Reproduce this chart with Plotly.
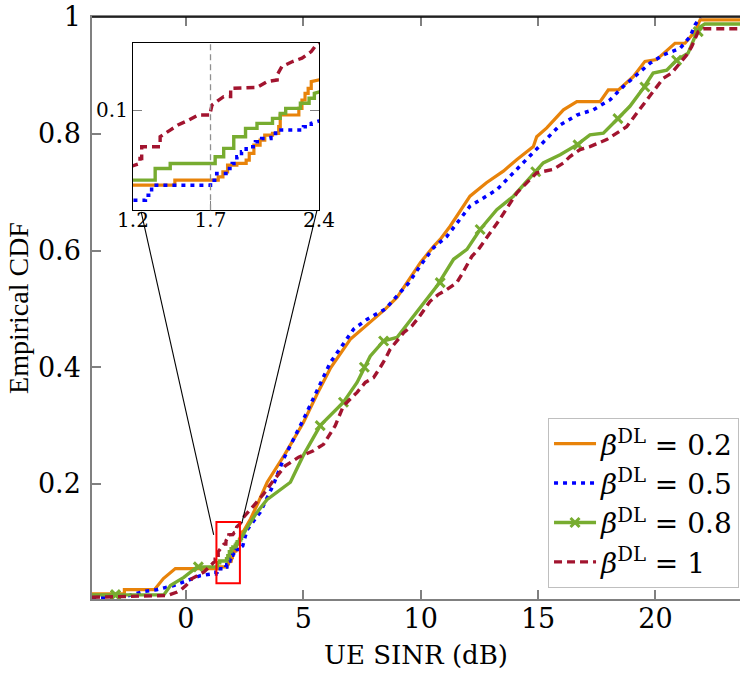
import plotly.graph_objects as go

# colours / fonts
ORANGE = '#E8830A'
BLUE = '#0000FF'
GREEN = '#77AC30'
RED = '#A2142F'
FONT = 'DejaVu Serif, Liberation Serif, serif'
FONT_Y = 'Liberation Serif, DejaVu Serif, serif'

# beta^DL = 0.2 (orange, solid)
orange_x = [-4.0, -2.62, -2.62, -1.34, -0.96, -0.45,
            1.47, 1.47, 1.75, 1.75, 1.78, 1.78, 1.81, 1.81, 1.87, 1.87,
            1.93, 1.93, 1.95, 1.95, 1.98, 1.98, 2.02, 2.02, 2.05, 2.05,
            2.10, 2.10, 2.14, 2.14, 2.15, 2.15, 2.27, 2.27, 2.29, 2.29,
            2.31, 2.31, 2.33, 2.33, 2.35, 2.35, 2.45,
            2.75, 3.1, 3.46, 4.2, 5.0, 5.6, 6.15, 7.0, 7.85, 8.5, 9.0,
            9.5, 10.0, 10.55, 10.83, 11.26, 12.1, 12.8, 13.52, 14.1, 14.8,
            14.94, 15.37, 16.08, 16.65, 17.64, 17.99, 18.42, 19.06, 19.55,
            20.05, 20.83, 21.26, 21.68, 21.82, 21.9, 23.6]
orange_y = [0.012, 0.012, 0.019, 0.019, 0.038, 0.055,
            0.055, 0.058, 0.058, 0.060, 0.060, 0.063, 0.063, 0.067, 0.067, 0.068,
            0.068, 0.070, 0.070, 0.074, 0.074, 0.079, 0.079, 0.082, 0.082, 0.085,
            0.085, 0.086, 0.086, 0.090, 0.090, 0.097, 0.097, 0.101, 0.101, 0.106,
            0.106, 0.110, 0.110, 0.113, 0.113, 0.117, 0.119,
            0.14, 0.17, 0.203, 0.25, 0.305, 0.355, 0.398, 0.448, 0.477, 0.50, 0.52,
            0.55, 0.58, 0.607, 0.619, 0.642, 0.693, 0.716, 0.736, 0.756, 0.778,
            0.795, 0.81, 0.841, 0.855, 0.855, 0.875, 0.875, 0.898, 0.924,
            0.927, 0.955, 0.955, 0.975, 0.99, 0.995, 0.995]

# beta^DL = 0.5 (blue, dotted)
blue_x = [-4.0, -2.5, -1.8, -1.25, -0.52, 0.05, 0.62, 1.1,
          1.28, 1.28, 1.32, 1.32, 1.70, 1.70, 1.74, 1.74, 1.80, 1.80,
          1.84, 1.84, 1.87, 1.87, 1.90, 1.90, 1.93, 1.93, 1.99, 1.99,
          2.03, 2.03, 2.09, 2.09, 2.12, 2.12, 2.30, 2.30, 2.35, 2.35, 2.42,
          2.6, 3.17, 3.74, 4.16, 5.01, 6.15, 7.14, 7.71, 8.5, 9.5, 10.0,
          10.55, 11.11, 12.1, 13.24, 13.8, 14.37, 15.22, 15.94, 16.65, 17.35,
          18.06, 18.63, 19.2, 19.77, 20.33, 21.04, 21.47, 21.68, 21.9]
blue_y = [0.005, 0.008, 0.016, 0.019, 0.026, 0.035, 0.043, 0.046,
          0.046, 0.049, 0.049, 0.055, 0.055, 0.058, 0.058, 0.062, 0.062, 0.065,
          0.065, 0.068, 0.068, 0.072, 0.072, 0.075, 0.075, 0.078, 0.078, 0.081,
          0.081, 0.083, 0.083, 0.086, 0.086, 0.088, 0.088, 0.090, 0.090, 0.092, 0.094,
          0.121, 0.152, 0.2, 0.243, 0.311, 0.408, 0.465, 0.482, 0.50, 0.545, 0.575,
          0.605, 0.624, 0.676, 0.704, 0.727, 0.75, 0.784, 0.815, 0.832, 0.841,
          0.858, 0.881, 0.901, 0.921, 0.935, 0.946, 0.966, 0.986, 1.0]

# beta^DL = 0.8 (green, solid with x marks)
green_x = [-4.0, -0.94, -0.66, -0.09, 0.48,
           1.343, 1.343, 1.44, 1.44, 1.73, 1.73, 1.785, 1.785, 1.85, 1.85,
           1.926, 1.926, 2.0, 2.0, 2.1, 2.1, 2.15, 2.15, 2.185, 2.185,
           2.28, 2.28, 2.336, 2.336, 2.37, 2.37, 2.41,
           2.53, 3.0, 3.45, 4.45, 5.0, 5.72, 6.71, 7.29, 7.85, 8.42, 8.99,
           9.84, 10.69, 11.4, 11.97, 12.53, 13.24, 13.95, 14.8, 15.22, 15.94,
           16.65, 17.21, 17.78, 18.35, 18.91, 19.48, 19.9, 20.48, 20.9, 21.39,
           21.68, 21.9, 22.1, 23.6]
green_y = [0.01, 0.01, 0.026, 0.04, 0.058,
           0.058, 0.065, 0.065, 0.068, 0.068, 0.072, 0.072, 0.077, 0.077, 0.084,
           0.084, 0.089, 0.089, 0.092, 0.092, 0.095, 0.095, 0.098, 0.098, 0.101,
           0.101, 0.104, 0.104, 0.107, 0.107, 0.110, 0.111,
           0.12, 0.15, 0.173, 0.203, 0.249, 0.30, 0.34, 0.374, 0.419, 0.445, 0.451,
           0.494, 0.539, 0.585, 0.602, 0.636, 0.67, 0.693, 0.73, 0.75, 0.764,
           0.781, 0.798, 0.801, 0.824, 0.847, 0.878, 0.904, 0.909, 0.926, 0.938,
           0.966, 0.983, 0.988, 0.988]
green_mark_x = [-3.0, 0.53, 5.72, 6.71, 7.6, 8.42, 10.83, 12.53, 14.9, 16.7, 18.4, 19.55, 20.9, 21.82]
green_mark_y = [0.01, 0.058, 0.30, 0.34, 0.40, 0.445, 0.545, 0.636, 0.735, 0.781, 0.826, 0.88, 0.926, 0.975]

# beta^DL = 1 (dark red, dashed)
red_x = [-4.0, -0.8, -0.37, -0.23, 0.0, 0.26, 0.76, 1.18,
         1.245, 1.245, 1.256, 1.256, 1.375, 1.375, 1.44, 1.49, 1.56, 1.62,
         1.70, 1.70, 1.71, 1.785, 1.83, 1.83, 2.0, 2.065, 2.13, 2.13, 2.16,
         2.23, 2.29, 2.35, 2.39,
         2.89, 3.31, 3.67, 4.23, 4.8, 5.43, 5.86, 6.36, 6.71, 7.29, 7.64, 7.99,
         8.28, 8.49, 8.7, 8.99, 9.27, 9.63, 9.91, 10.4, 10.76, 11.11, 11.54,
         11.75, 11.97, 12.18, 12.46, 13.31, 14.1, 14.52, 14.94, 15.65, 16.08,
         16.36, 16.79, 17.21, 17.92, 18.35, 18.77, 19.2, 19.62, 20.05, 20.33,
         20.69, 21.04, 21.33, 21.54, 21.68, 21.82, 22.04, 23.6]
red_y = [0.006, 0.009, 0.015, 0.018, 0.026, 0.038, 0.049, 0.066,
         0.068, 0.071, 0.071, 0.078, 0.078, 0.084, 0.088, 0.091, 0.094, 0.097,
         0.097, 0.099, 0.103, 0.108, 0.108, 0.113, 0.1135, 0.117, 0.118, 0.121, 0.126,
         0.129, 0.131, 0.135, 0.14,
         0.163, 0.183, 0.203, 0.231, 0.246, 0.257, 0.268, 0.30, 0.334, 0.357, 0.374, 0.382,
         0.40, 0.414, 0.431, 0.445, 0.459, 0.471, 0.485, 0.513, 0.525, 0.533, 0.545,
         0.559, 0.576, 0.59, 0.602, 0.65, 0.699, 0.716, 0.733, 0.739, 0.75,
         0.761, 0.773, 0.778, 0.79, 0.801, 0.812, 0.835, 0.858, 0.881, 0.895,
         0.904, 0.921, 0.935, 0.949, 0.963, 0.975, 0.98, 0.98]

labels = ['<i>β</i><sup>DL</sup> = 0.2', '<i>β</i><sup>DL</sup> = 0.5',
          '<i>β</i><sup>DL</sup> = 0.8', '<i>β</i><sup>DL</sup> = 1']

series = [
    (orange_x, orange_y, dict(color=ORANGE, width=3.2)),
    (blue_x, blue_y, dict(color=BLUE, width=3.5, dash='4px,5px')),
    (green_x, green_y, dict(color=GREEN, width=3.4)),
    (red_x, red_y, dict(color=RED, width=3.4, dash='8px,5px')),
]
green_marker = dict(symbol='x-thin', size=9, line=dict(color=GREEN, width=3), color=GREEN)

fig = go.Figure()
for i, (sx, sy, ln) in enumerate(series):
    for xa, ya, main in [('x', 'y', True), ('x2', 'y2', False)]:
        fig.add_trace(go.Scatter(x=sx, y=sy, mode='lines', line=ln, xaxis=xa, yaxis=ya,
                                 name=labels[i], legendrank=i + 1,
                                 showlegend=main and i != 2, hoverinfo='skip'))
    if i == 2:
        fig.add_trace(go.Scatter(x=green_mark_x, y=green_mark_y, mode='markers',
                                 marker=green_marker, showlegend=False, hoverinfo='skip'))
        # legend entry for the green series (line with mark)
        fig.add_trace(go.Scatter(x=green_mark_x[:1], y=green_mark_y[:1], mode='lines+markers',
                                 line=ln, marker=green_marker, name=labels[2], legendrank=3,
                                 hoverinfo='skip'))

tick_font = dict(family=FONT, size=27, color='black')
inset_font = dict(family=FONT, size=20, color='black')
fig.update_layout(
    template='none',
    width=740, height=673,
    margin=dict(l=92, r=0, t=17, b=74),
    paper_bgcolor='white', plot_bgcolor='white',
    font=dict(family=FONT, color='black'),
    showlegend=True,
    legend=dict(x=0.9985, xanchor='right', y=0.019, yanchor='bottom',
                bordercolor='#bfbfbf', borderwidth=1, bgcolor='white',
                font=dict(family=FONT, size=28, color='black'),
                itemwidth=42, tracegroupgap=0),
    xaxis=dict(range=[-4, 23.6], tickvals=[0, 5, 10, 15, 20], ticks='inside', ticklen=9,
               tickwidth=1.5, tickcolor='#808080', showline=True, linecolor='#808080',
               linewidth=1.5, mirror='ticks', showgrid=False, zeroline=False,
               tickfont=tick_font, automargin=False, ticklabelstandoff=-5,
               title=dict(text='UE SINR (dB)', font=dict(family=FONT, size=26), standoff=13)),
    yaxis=dict(range=[0.003, 1], tickvals=[0.2, 0.4, 0.6, 0.8, 1],
               ticktext=['0.2', '0.4', '0.6', '0.8', '1'], ticks='inside', ticklen=9,
               tickwidth=1.5, tickcolor='#808080', showline=True, linecolor='#808080',
               linewidth=1.5, showgrid=False, zeroline=False, tickfont=tick_font,
               automargin=False, ticklabelstandoff=4,
               title=dict(text='Empirical CDF', font=dict(family=FONT_Y, size=28), standoff=1)),
    xaxis2=dict(domain=[0.0633, 0.3503], anchor='y2', range=[1.2, 2.4],
                tickvals=[1.2, 1.7, 2.4], ticktext=['1.2', '1.7', '2.4'], ticks='inside',
                ticklen=9, tickwidth=1.2, tickcolor='#808080', showline=True,
                linecolor='black', linewidth=1.2, mirror=True, showgrid=False,
                zeroline=False, tickfont=inset_font, automargin=False,
                ticklabelstandoff=-8),
    yaxis2=dict(domain=[0.668, 0.955], anchor='x2', range=[0.04, 0.14], tickvals=[0.1],
                ticktext=['0.1'], ticks='inside', ticklen=9, tickwidth=1.2,
                tickcolor='#808080', showline=True, linecolor='black', linewidth=1.2,
                mirror='ticks', showgrid=False, zeroline=False,
                tickfont=inset_font, automargin=False),
)

# top border of the main axes
fig.add_shape(type='line', xref='x domain', yref='y domain', x0=0, x1=1, y0=1, y1=1,
              line=dict(color='black', width=1.5))
# dashed marker line inside the zoom
fig.add_shape(type='line', xref='x2', yref='y2 domain', x0=1.7, x1=1.7, y0=0, y1=1,
              line=dict(color='#909090', width=1.3, dash='6px,4px'))
# zoomed region and connectors
fig.add_shape(type='rect', xref='x', yref='y', x0=1.3, x1=2.3, y0=0.03, y1=0.135,
              line=dict(color='#FF0000', width=2))
fig.add_shape(type='line', xref='x', yref='y', x0=-1.906, y0=0.666, x1=1.183, y1=0.113,
              line=dict(color='black', width=1.1))
fig.add_shape(type='line', xref='x', yref='y', x0=5.583, y0=0.669, x1=2.383, y1=0.133,
              line=dict(color='black', width=1.1))

# the page keeps the browser's default 8px body margin otherwise
fig.write_html('out.html', config={'displayModeBar': False},
               post_script="document.body.style.margin='0px';")
